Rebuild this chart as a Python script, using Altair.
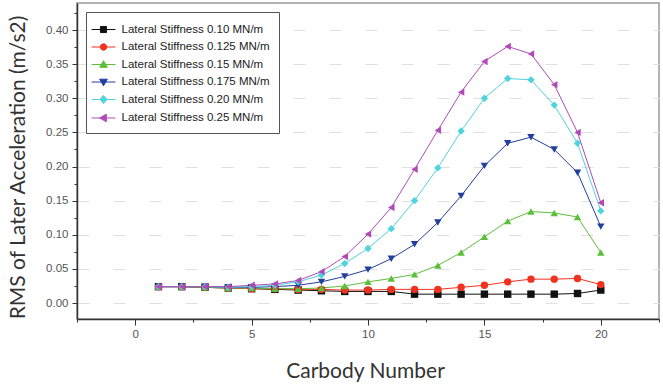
import altair as alt
import pandas as pd

# ---------------- data ----------------
carbody = list(range(1, 21))

series_names = [
    "Lateral Stiffness 0.10 MN/m",
    "Lateral Stiffness 0.125 MN/m",
    "Lateral Stiffness 0.15 MN/m",
    "Lateral Stiffness 0.175 MN/m",
    "Lateral Stiffness 0.20 MN/m",
    "Lateral Stiffness 0.25 MN/m",
]

k_010 = [0.024, 0.024, 0.023, 0.022, 0.021, 0.020, 0.019, 0.018, 0.017, 0.017,
         0.017, 0.013, 0.013, 0.013, 0.013, 0.013, 0.013, 0.013, 0.014, 0.019]
k_0125 = [0.024, 0.024, 0.023, 0.022, 0.021, 0.021, 0.020, 0.020, 0.019, 0.019,
          0.020, 0.020, 0.020, 0.023, 0.026, 0.031, 0.035, 0.035, 0.036, 0.027]
k_015 = [0.024, 0.024, 0.023, 0.022, 0.022, 0.021, 0.021, 0.022, 0.025, 0.031,
         0.036, 0.042, 0.055, 0.074, 0.097, 0.120, 0.134, 0.132, 0.126, 0.074]
k_0175 = [0.024, 0.024, 0.024, 0.023, 0.023, 0.024, 0.026, 0.031, 0.039, 0.049,
          0.065, 0.086, 0.118, 0.157, 0.201, 0.234, 0.243, 0.225, 0.191, 0.112]
k_020 = [0.024, 0.024, 0.024, 0.023, 0.024, 0.026, 0.031, 0.041, 0.058, 0.080,
         0.109, 0.150, 0.198, 0.252, 0.300, 0.329, 0.327, 0.290, 0.234, 0.135]
k_025 = [0.024, 0.024, 0.024, 0.024, 0.026, 0.028, 0.033, 0.046, 0.068, 0.101,
         0.140, 0.196, 0.253, 0.309, 0.354, 0.376, 0.365, 0.320, 0.250, 0.147]

all_series = [k_010, k_0125, k_015, k_0175, k_020, k_025]

x_major = [0, 5, 10, 15, 20]
x_minor = [-2.5, 2.5, 7.5, 12.5, 17.5, 22.5]
y_major = [0.0, 0.05, 0.10, 0.15, 0.20, 0.25, 0.30, 0.35, 0.40]
y_minor = [0.025, 0.075, 0.125, 0.175, 0.225, 0.275, 0.325, 0.375, 0.425]

colors = ["#111111", "#f2311f", "#5cbf3a", "#213f9e", "#4fd3dc", "#b14ab8"]
shapes = ["square", "circle", "triangle-up", "triangle-down", "diamond", "triangle-left"]

# legend symbols: a short line with the marker on it
legend_paths = [
    "M-1.4,0H1.4M-0.36,-0.36H0.36V0.36H-0.36Z",
    "M-1.4,0H1.4M-0.38,0A0.38,0.38,0,1,0,0.38,0A0.38,0.38,0,1,0,-0.38,0Z",
    "M-1.4,0H1.4M0,-0.45L0.45,0.33H-0.45Z",
    "M-1.4,0H1.4M0,0.45L0.45,-0.33H-0.45Z",
    "M-1.4,0H1.4M0,-0.48L0.4,0L0,0.48L-0.4,0Z",
    "M-1.4,0H1.4M-0.45,0L0.33,-0.45V0.45Z",
]

rows = []
for name, vals in zip(series_names, all_series):
    for xv, yv in zip(carbody, vals):
        rows.append({"x": xv, "y": yv, "series": name, "marker": name})
df = pd.DataFrame(rows)

# ---------------- chart ----------------
xs = alt.Scale(domain=[-2.5, 22.5], nice=False, zero=False)
ys = alt.Scale(domain=[-0.0234, 0.4396], nice=False, zero=False)

label_font = "Liberation Sans"
title_font = "Lato"

x_axis_major = alt.Axis(
    orient="bottom",
    values=x_major, format="d", tickSize=6, tickColor="#333", tickWidth=1,
    labelFont=label_font, labelFontSize=11.5, labelColor="#555", labelPadding=3,
    domainColor="#333", domainWidth=1.5, grid=False,
    title="Carbody Number", titleFont=title_font, titleFontSize=21,
    titleFontWeight="normal", titleColor="#333",
    titleX=288, titleY=58, titleBaseline="alphabetic", titleAnchor="middle",
)
x_axis_minor = alt.Axis(
    values=x_minor, tickSize=3, tickColor="#333", labels=False, domain=False,
    grid=False, title=None, orient="bottom",
)
y_axis_major = alt.Axis(
    orient="left",
    values=y_major, format=".2f", tickSize=5, tickColor="#333", tickWidth=1,
    labelFont=label_font, labelFontSize=11.5, labelColor="#555", labelPadding=4,
    domainColor="#333", domainWidth=1.5,
    grid=True, gridColor="#e0e0e0", gridDash=[12, 24], gridWidth=1,
    title="RMS of Later Acceleration (m/s2)", titleFont=title_font,
    titleFontSize=21, titleFontWeight="normal", titleColor="#333",
    titleX=-59, titleY=164, titleBaseline="middle", titleAngle=-90,
)
y_axis_minor = alt.Axis(
    values=y_minor, tickSize=3, tickColor="#333", labels=False, domain=False,
    grid=False, title=None, orient="left",
)

names_js = "[" + ",".join("'" + n + "'" for n in series_names) + "]"
paths_js = "[" + ",".join("'" + p + "'" for p in legend_paths) + "]"
shape_expr = f"{paths_js}[indexof({names_js}, datum.value)]"
color_expr = "scale('color', datum.value)"

legend = alt.Legend(
    title=None, orient="none", legendX=9, legendY=9,
    fillColor="white", strokeColor="#555", padding=8.5, cornerRadius=0,
    symbolSize=289, symbolOffset=0, labelOffset=9, rowPadding=2.5,
    symbolType=alt.ExprRef(expr=shape_expr),
    symbolFillColor=alt.ExprRef(expr=color_expr),
    symbolStrokeColor=alt.ExprRef(expr=color_expr),
    symbolStrokeWidth=1, symbolOpacity=1,
    labelFont=label_font, labelFontSize=11.5, labelColor="#222", labelLimit=300,
)

color_scale = alt.Scale(domain=series_names, range=colors)

minor = alt.Chart(df).mark_point(opacity=0).encode(
    x=alt.X("x:Q", scale=xs, axis=x_axis_minor),
    y=alt.Y("y:Q", scale=ys, axis=y_axis_minor),
)

lines = alt.Chart(df).mark_line(strokeWidth=1).encode(
    x=alt.X("x:Q", scale=xs, axis=x_axis_major),
    y=alt.Y("y:Q", scale=ys, axis=y_axis_major),
    color=alt.Color("series:N", scale=color_scale, legend=legend),
    detail="series:N",
)

points = alt.Chart(df).mark_point(filled=True, size=55, opacity=1, strokeWidth=0).encode(
    x=alt.X("x:Q", scale=xs, axis=None),
    y=alt.Y("y:Q", scale=ys, axis=None),
    fill=alt.Fill("marker:N", scale=color_scale, legend=None),
    shape=alt.Shape("marker:N", scale=alt.Scale(domain=series_names, range=shapes), legend=None),
)

chart = (
    alt.layer(minor, lines, points)
    .resolve_axis(x="independent", y="independent")
    .resolve_scale(fill="independent", shape="independent")
    .properties(
        width=582, height=316,
        autosize=alt.AutoSizeParams(type="none"),
        padding={"left": 77, "top": 3, "right": 4, "bottom": 65},
        background="white",
    )
    .configure_view(stroke="#9a9a9a", strokeWidth=1.5)
)

chart.save("out.html", embed_options={"renderer": "svg", "actions": False})
